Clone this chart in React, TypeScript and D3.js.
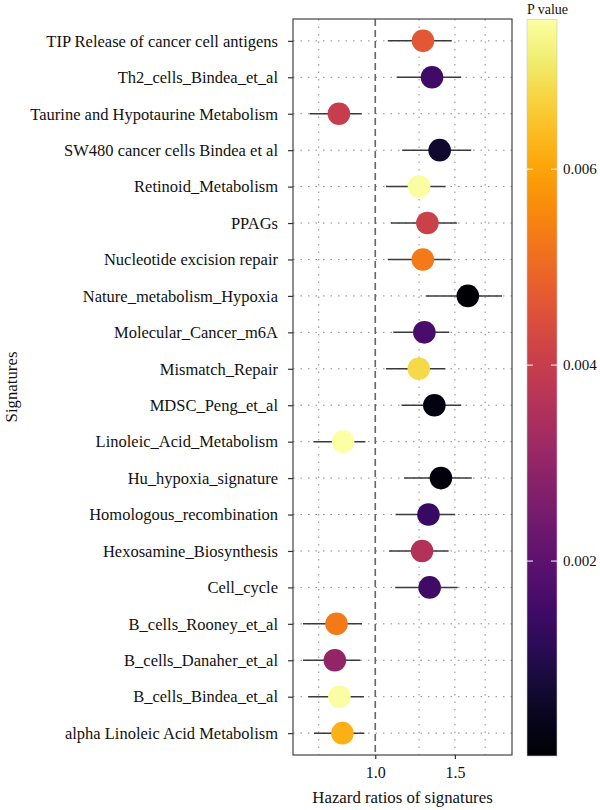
import React, { useEffect, useRef } from 'react';
import * as d3 from 'd3';

// signatures, top to bottom
const signatures = [
  'TIP Release of cancer cell antigens',
  'Th2_cells_Bindea_et_al',
  'Taurine and Hypotaurine Metabolism',
  'SW480 cancer cells Bindea et al',
  'Retinoid_Metabolism',
  'PPAGs',
  'Nucleotide excision repair',
  'Nature_metabolism_Hypoxia',
  'Molecular_Cancer_m6A',
  'Mismatch_Repair',
  'MDSC_Peng_et_al',
  'Linoleic_Acid_Metabolism',
  'Hu_hypoxia_signature',
  'Homologous_recombination',
  'Hexosamine_Biosynthesis',
  'Cell_cycle',
  'B_cells_Rooney_et_al',
  'B_cells_Danaher_et_al',
  'B_cells_Bindea_et_al',
  'alpha Linoleic Acid Metabolism',
];

const hazardRatio = [1.275, 1.335, 0.831, 1.388, 1.25, 1.304, 1.274, 1.602, 1.284, 1.248, 1.351, 0.849, 1.397, 1.311, 1.269, 1.319, 0.821, 0.814, 0.833, 0.846];
const lowerCI = [1.066, 1.115, 0.716, 1.147, 1.056, 1.083, 1.066, 1.293, 1.096, 1.056, 1.143, 0.73, 1.158, 1.109, 1.072, 1.107, 0.692, 0.692, 0.711, 0.732];
const upperCI = [1.475, 1.549, 0.933, 1.63, 1.431, 1.515, 1.466, 1.907, 1.458, 1.429, 1.549, 0.951, 1.635, 1.5, 1.453, 1.521, 0.935, 0.927, 0.944, 0.946];
const pValue = [0.00467, 0.0015, 0.004, 0.0006, 0.0075, 0.0041, 0.0053, 0.00001, 0.00166, 0.0068, 0.00023, 0.00753, 0.00015, 0.00136, 0.0036, 0.0015, 0.0053, 0.003, 0.0075, 0.0062];

const xGrid = [0.75, 1.25, 1.5, 1.75];
const xTicks = [1.0, 1.5];
const pTicks = [0.002, 0.004, 0.006];

export default function App() {
  const ref = useRef<SVGSVGElement>(null);

  useEffect(() => {
    const svg = d3.select(ref.current);
    svg.selectAll('*').remove();

    const font = '"Liberation Serif", "Times New Roman", serif';
    const panel = { left: 293, right: 512, top: 19, bottom: 755 };

    const data = signatures.map((name, i) => ({
      name, hr: hazardRatio[i], lo: lowerCI[i], hi: upperCI[i], p: pValue[i],
    }));

    // log scale with 5% expansion like ggplot
    const lmin = Math.log(d3.min(lowerCI)!);
    const lmax = Math.log(d3.max(upperCI)!);
    const pad = (lmax - lmin) * 0.05;
    const x = d3.scaleLog()
      .domain([Math.exp(lmin - pad), Math.exp(lmax + pad)])
      .range([panel.left, panel.right]);

    const y = d3.scalePoint<string>()
      .domain(signatures)
      .range([panel.top, panel.bottom])
      .padding(0.6);

    const pExtent = d3.extent(pValue) as [number, number];
    const color = d3.scaleSequential(d3.interpolateInferno).domain(pExtent);

    const g = svg.append('g');

    // grid
    g.selectAll('.hgrid')
      .data(signatures)
      .enter()
      .append('line')
      .attr('x1', panel.left).attr('x2', panel.right)
      .attr('y1', d => y(d)!).attr('y2', d => y(d)!)
      .attr('stroke', '#8a8a8a').attr('stroke-width', 1)
      .attr('stroke-dasharray', '1.5,6');

    g.selectAll('.vgrid')
      .data(xGrid)
      .enter()
      .append('line')
      .attr('x1', d => x(d)).attr('x2', d => x(d))
      .attr('y1', panel.top).attr('y2', panel.bottom)
      .attr('stroke', '#8a8a8a').attr('stroke-width', 1)
      .attr('stroke-dasharray', '1.5,6');

    // reference line at HR = 1
    g.append('line')
      .attr('x1', x(1)).attr('x2', x(1))
      .attr('y1', panel.top).attr('y2', panel.bottom)
      .attr('stroke', '#666').attr('stroke-width', 1.6)
      .attr('stroke-dasharray', '7,4');

    // CI
    g.selectAll('.ci')
      .data(data)
      .enter()
      .append('line')
      .attr('x1', d => x(d.lo)).attr('x2', d => x(d.hi))
      .attr('y1', d => y(d.name)!).attr('y2', d => y(d.name)!)
      .attr('stroke', '#3a3a3a').attr('stroke-width', 1.5);

    // points
    g.selectAll('circle')
      .data(data)
      .enter()
      .append('circle')
      .attr('cx', d => x(d.hr))
      .attr('cy', d => y(d.name)!)
      .attr('r', 11.3)
      .attr('fill', d => color(d.p));

    // panel border
    g.append('rect')
      .attr('x', panel.left).attr('y', panel.top)
      .attr('width', panel.right - panel.left)
      .attr('height', panel.bottom - panel.top)
      .attr('fill', 'none').attr('stroke', '#444').attr('stroke-width', 1.2);

    // y axis
    const yAxis = g.append('g')
      .attr('transform', `translate(${panel.left},0)`)
      .call(d3.axisLeft(y).tickSize(5).tickPadding(10));
    yAxis.select('.domain').remove();
    yAxis.selectAll('line').attr('stroke', '#333').attr('stroke-width', 1.2);
    yAxis.selectAll('text').attr('font-family', font).attr('font-size', 16.5).attr('fill', '#111');

    // x axis
    const xAxis = g.append('g')
      .attr('transform', `translate(0,${panel.bottom})`)
      .call(d3.axisBottom(x).tickValues(xTicks).tickFormat(d3.format('.1f')).tickSize(4).tickPadding(8));
    xAxis.select('.domain').remove();
    xAxis.selectAll('line').attr('stroke', '#333').attr('stroke-width', 1.2);
    xAxis.selectAll('text').attr('font-family', font).attr('font-size', 16).attr('fill', '#111');

    // axis titles
    g.append('text')
      .attr('x', (panel.left + panel.right) / 2).attr('y', 803)
      .attr('text-anchor', 'middle')
      .attr('font-family', font).attr('font-size', 16.8).attr('fill', '#111')
      .text('Hazard ratios of signatures');

    g.append('text')
      .attr('transform', `translate(17,${(panel.top + panel.bottom) / 2}) rotate(-90)`)
      .attr('text-anchor', 'middle')
      .attr('font-family', font).attr('font-size', 16.8).attr('fill', '#111')
      .text('Signatures');

    // colour bar
    const bar = { x: 527, w: 30, top: 19.3, bottom: 756 };
    const pScale = d3.scaleLinear().domain(pExtent).range([bar.bottom, bar.top]);
    const defs = svg.append('defs');
    const grad = defs.append('linearGradient')
      .attr('id', 'pgrad').attr('x1', 0).attr('x2', 0).attr('y1', 1).attr('y2', 0);
    d3.range(0, 1.0001, 0.05).forEach(t => {
      grad.append('stop').attr('offset', t).attr('stop-color', d3.interpolateInferno(t));
    });
    g.append('rect')
      .attr('x', bar.x).attr('y', bar.top)
      .attr('width', bar.w).attr('height', bar.bottom - bar.top)
      .attr('fill', 'url(#pgrad)')
      .attr('stroke', '#c8c8c8').attr('stroke-width', 0.6);

    const ticks = g.selectAll('.ptick').data(pTicks).enter().append('g');
    ticks.append('line')
      .attr('x1', bar.x).attr('x2', bar.x + 6)
      .attr('y1', d => pScale(d)).attr('y2', d => pScale(d))
      .attr('stroke', '#fff').attr('stroke-width', 1);
    ticks.append('line')
      .attr('x1', bar.x + bar.w - 6).attr('x2', bar.x + bar.w)
      .attr('y1', d => pScale(d)).attr('y2', d => pScale(d))
      .attr('stroke', '#fff').attr('stroke-width', 1);
    ticks.append('text')
      .attr('x', bar.x + bar.w + 6)
      .attr('y', d => pScale(d))
      .attr('dy', '0.35em')
      .attr('font-family', font).attr('font-size', 15).attr('fill', '#111')
      .text(d => d3.format('.3f')(d));

    g.append('text')
      .attr('x', bar.x).attr('y', 14)
      .attr('font-family', font).attr('font-size', 14).attr('fill', '#111')
      .text('P value');
  }, []);

  return (
    <div>
      <svg ref={ref} width={600} height={810}
        style={{ position: 'absolute', left: 0, top: 0, background: '#fff' }} />
    </div>
  );
}
